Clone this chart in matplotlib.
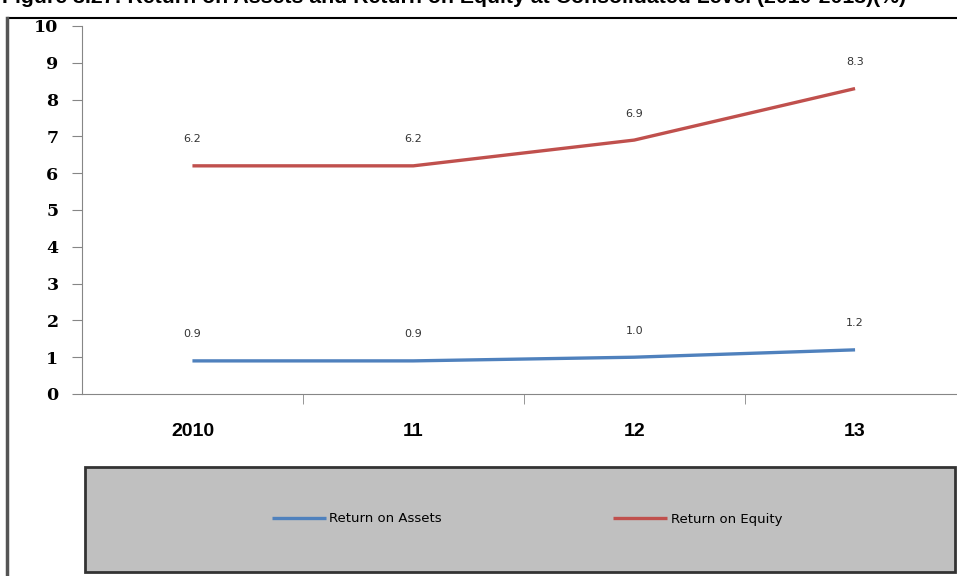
import matplotlib.pyplot as plt
from matplotlib.patches import Rectangle
from matplotlib.lines import Line2D

years = ['2010', '11', '12', '13']
roa = [0.9, 0.9, 1.0, 1.2]
roe = [6.2, 6.2, 6.9, 8.3]
title = 'Figure 3.27: Return on Assets and Return on Equity at Consolidated Level (2010-2013)(%)'

W, H = 957, 576
fig = plt.figure(figsize=(W / 100, H / 100), dpi=100)

# titulo cortado arriba, como en el original
fig.text(2 / W, 1 - 3 / H, title, fontsize=15.3, fontweight='bold',
         family='Liberation Sans', va='baseline', ha='left')

# marco exterior
fig.add_artist(Line2D([8 / W, 1], [1 - 18 / H] * 2, color='black', lw=1.5))
fig.add_artist(Line2D([7 / W] * 2, [0, 1 - 18 / H], color='#555555', lw=2.5))

ax = fig.add_axes([82 / W, 182 / H, 883.5 / W, 368 / H])
x = range(len(years))
ax.plot(x, roa, color='#4F81BD', lw=2.4, label='Return on Assets', solid_capstyle='butt')
ax.plot(x, roe, color='#C0504D', lw=2.4, label='Return on Equity', solid_capstyle='butt')

for i in x:
    ax.annotate(f'{roa[i]:.1f}', (i, roa[i]), xytext=(0, 19), textcoords='offset points',
                ha='center', va='center', fontsize=8, color='#333333')
    ax.annotate(f'{roe[i]:.1f}', (i, roe[i]), xytext=(0, 19), textcoords='offset points',
                ha='center', va='center', fontsize=8, color='#333333')

ax.set_xlim(-0.5, 3.5)
ax.set_ylim(0, 10)
ax.set_yticks(range(0, 11))
ax.set_yticklabels([str(v) for v in range(0, 11)], fontsize=12.5, fontweight='bold',
                   family='DejaVu Serif')
ax.set_xticks(list(x))
ax.set_xticklabels(years, fontsize=14, fontweight='bold', family='Liberation Sans')
ax.set_xticks([0.5, 1.5, 2.5], minor=True)
ax.tick_params(axis='x', which='major', length=0, pad=21)
ax.tick_params(axis='x', which='minor', length=7, color='#868686', direction='out')
ax.tick_params(axis='y', length=7, color='#868686', pad=10)
for s in ['top', 'right']:
    ax.spines[s].set_visible(False)
ax.spines['left'].set_color('#868686')
ax.spines['bottom'].set_color('#868686')

# caja de leyenda gris
fig.add_artist(Rectangle((85 / W, 4 / H), 870 / W, 105 / H, transform=fig.transFigure,
                         facecolor='#C0C0C0', edgecolor='#333333', lw=2))
fig.legend(loc='center', bbox_to_anchor=(527 / W, 1 - 519 / H), ncol=2, frameon=False,
           fontsize=9.5, handlelength=4.1, handletextpad=0.25, columnspacing=13)

fig.savefig('out.png', dpi=100)
